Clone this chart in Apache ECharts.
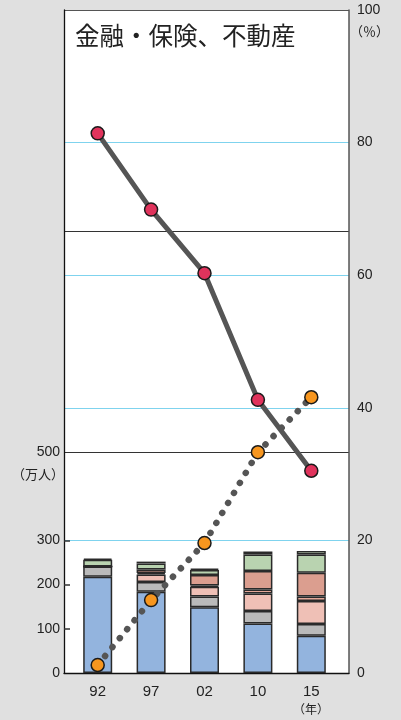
<!DOCTYPE html>
<html>
<head>
<meta charset="utf-8">
<script src="https://cdn.jsdelivr.net/npm/echarts@6/dist/echarts.min.js"></script>
<style>
  html, body { margin: 0; padding: 0; background: #e0e0e0; }
  #chart { width: 401px; height: 720px; }
</style>
</head>
<body>
<div id="chart"></div>
<script>
// Survey years
const years = ['92', '97', '02', '10', '15'];

// Employed persons by group (10k persons), stacked bottom to top
const blueSeg = [218, 184, 149, 112, 84];
const greySeg = [23, 22, 24, 28, 27];
const lightPinkSeg = [0, 17, 22, 40, 52];
const midPinkSeg = [0, 3, 3, 9, 10];
const salmonSeg = [0, 8, 24, 42, 54];
const greenSeg = [15, 14, 11, 37, 41];
const paleGreenSeg = [3, 4, 3, 7, 8];

// Shares in percent (right axis)
const redShare = [81.4, 69.9, 60.3, 41.2, 30.5];
const orangeShare = [1.2, 11.0, 19.6, 33.3, 41.6];

// Left axis labels and tick marks that are printed
const leftLabels = [0, 100, 200, 300, 500];
const leftTicks = [100, 200, 300];
const leftMax = 1500;
const leftStep = 100;

const FONT = '"Liberation Sans", Arial, sans-serif';
const CJK = '"Noto Sans CJK JP", sans-serif';
const CYAN = '#7fd3ee';

const chart = echarts.init(document.getElementById('chart'), null, { renderer: 'canvas' });

function barSeries(name, data, color) {
  return {
    name: name, type: 'bar', stack: 'total',
    xAxisIndex: 1, yAxisIndex: 2,
    barWidth: 29, data: data, silent: true, z: 2,
    itemStyle: { color: color, borderColor: '#2a2a2a', borderWidth: 1.5 }
  };
}

chart.setOption({
  animation: false,
  backgroundColor: '#e0e0e0',
  grid: [
    // framed plot area
    { left: 64, top: 10, width: 285, height: 663, show: true, backgroundColor: '#ffffff', borderWidth: 0 },
    // inner band holding the five year slots
    { left: 71, top: 10, width: 267, height: 663, show: false }
  ],
  xAxis: [
    { gridIndex: 0, type: 'category', data: years,
      axisLine: { show: true, lineStyle: { color: '#111', width: 1.3 } },
      axisTick: { show: false }, axisLabel: { show: false }, splitLine: { show: false } },
    { gridIndex: 1, type: 'category', data: years,
      axisLine: { show: false }, axisTick: { show: false },
      axisLabel: { color: '#222', fontSize: 15, fontFamily: FONT, margin: 11 } }
  ],
  yAxis: [
    // left scale (10k persons): labels and short inner ticks
    { gridIndex: 0, type: 'value', position: 'left', min: 0, max: leftMax, interval: leftStep,
      axisLine: { show: true, lineStyle: { color: '#111', width: 1.3 } },
      axisTick: { show: true, inside: true, length: 6, customValues: leftTicks, lineStyle: { color: '#333', width: 1.5 } },
      axisLabel: { color: '#222', fontSize: 14, fontFamily: FONT, margin: 4,
        formatter: v => leftLabels.indexOf(v) >= 0 ? String(v) : '' },
      splitLine: { show: false } },
    // right scale (%) with cyan guide lines
    { gridIndex: 0, type: 'value', position: 'right', min: 0, max: 100, interval: 20,
      axisLine: { show: true, lineStyle: { color: '#555', width: 1.5 } },
      axisTick: { show: false },
      axisLabel: { color: '#222', fontSize: 14, fontFamily: FONT, margin: 8 },
      splitLine: { show: true, lineStyle: { color: ['transparent', CYAN, CYAN, CYAN, CYAN, '#555'], width: 1 } } },
    { gridIndex: 1, type: 'value', position: 'left', min: 0, max: leftMax, show: false },
    { gridIndex: 1, type: 'value', position: 'right', min: 0, max: 100, show: false },
    // black guide lines every 500 on the left scale
    { gridIndex: 0, type: 'value', position: 'left', min: 0, max: leftMax, interval: 500,
      axisLine: { show: false }, axisTick: { show: false }, axisLabel: { show: false },
      splitLine: { show: true, lineStyle: { color: ['transparent', '#333', '#333', 'transparent'], width: 1.2 } } }
  ],
  series: [
    barSeries('blue', blueSeg, '#93b4de'),
    barSeries('grey', greySeg, '#bababa'),
    barSeries('lightPink', lightPinkSeg, '#efc0b6'),
    barSeries('midPink', midPinkSeg, '#e4a899'),
    barSeries('salmon', salmonSeg, '#db9e8f'),
    barSeries('green', greenSeg, '#b9d3b0'),
    barSeries('paleGreen', paleGreenSeg, '#cde0c4'),
    {
      name: 'redShare', type: 'line', xAxisIndex: 1, yAxisIndex: 3, data: redShare, z: 5,
      lineStyle: { color: '#555', width: 5 },
      symbol: 'circle', symbolSize: 13,
      itemStyle: { color: '#e0335c', borderColor: '#1a1a1a', borderWidth: 1.5 }
    },
    {
      name: 'orangeShare', type: 'line', xAxisIndex: 1, yAxisIndex: 3, data: orangeShare, z: 5,
      lineStyle: { color: '#555', width: 6.5, type: [0.1, 11.5], cap: 'round' },
      symbol: 'circle', symbolSize: 13,
      itemStyle: { color: '#f7961f', borderColor: '#1a1a1a', borderWidth: 1.5 }
    }
  ],
  graphic: [
    { type: 'text', x: 75, y: 36, z: 10,
      style: { text: '金融・保険、不動産', font: '24.5px ' + CJK, fill: '#222', verticalAlign: 'middle' } },
    { type: 'text', x: 350, y: 31, z: 10,
      style: { text: '（％）', font: '13px ' + CJK, fill: '#222', verticalAlign: 'middle' } },
    { type: 'text', x: 64, y: 474, z: 10,
      style: { text: '（万人）', font: '13px ' + CJK, fill: '#222', align: 'right', verticalAlign: 'middle' } },
    { type: 'text', x: 311, y: 709, z: 10,
      style: { text: '（年）', font: '12px ' + CJK, fill: '#222', align: 'center', verticalAlign: 'middle' } }
  ]
});
</script>
</body>
</html>
